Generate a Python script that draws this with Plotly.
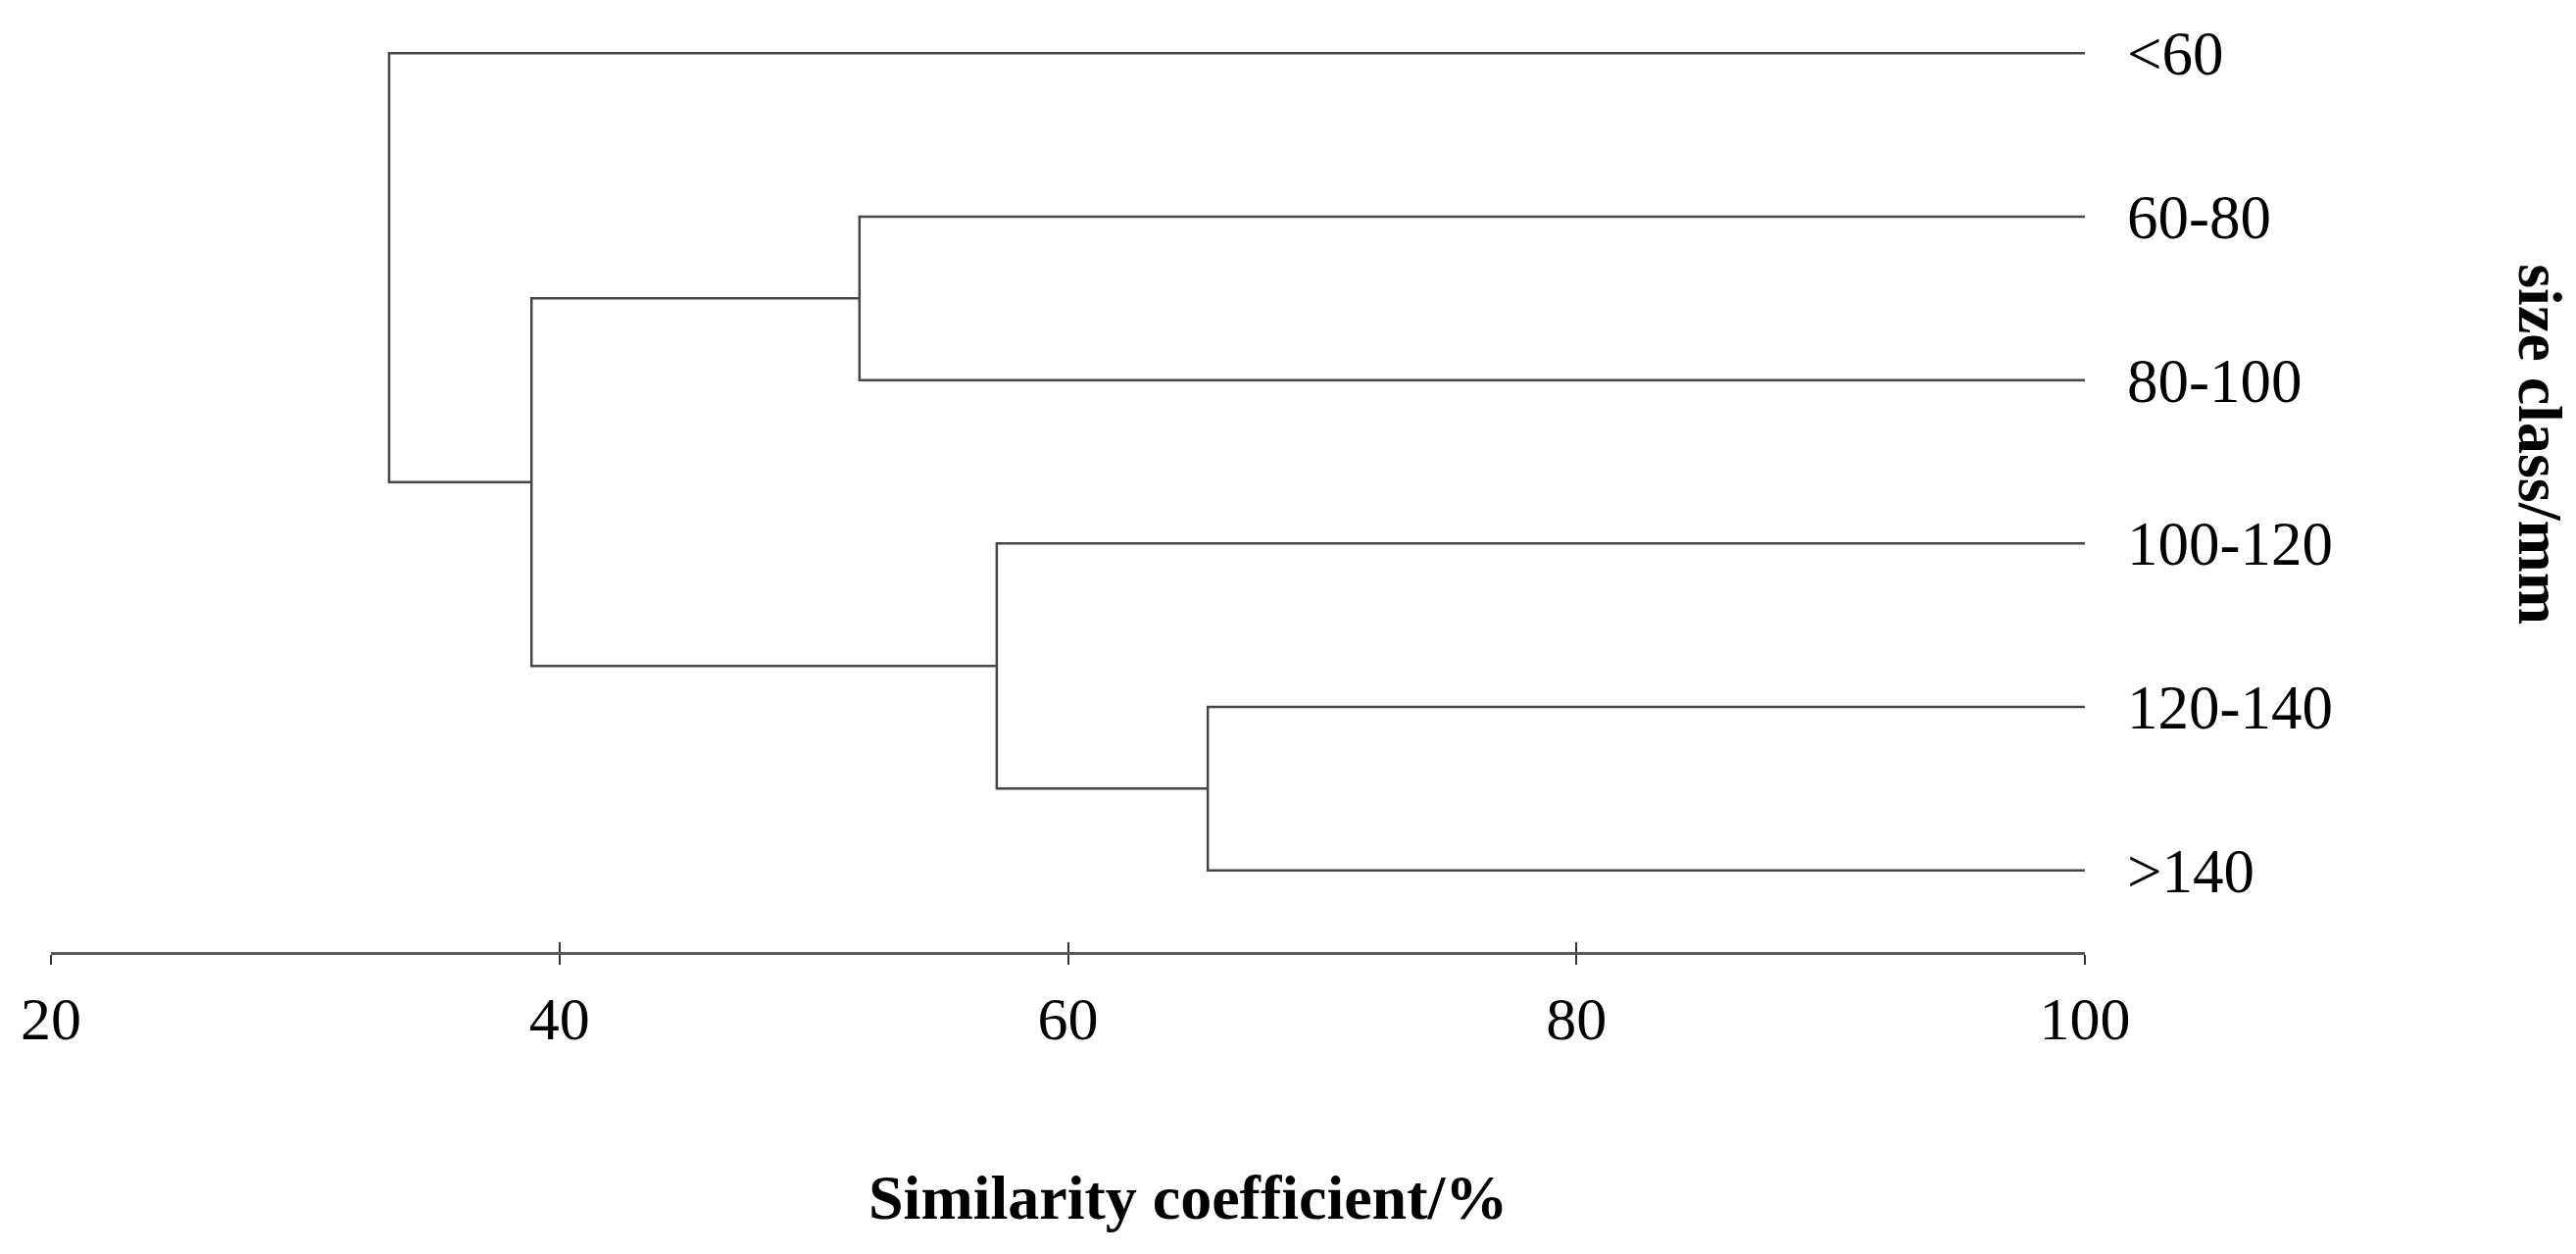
import plotly.graph_objects as go

# ---- data ----
leaf_labels = ["<60", "60-80", "80-100", "100-120", "120-140", ">140"]
# linkage: (child_a, child_b, similarity %); new cluster ids start at len(leaf_labels)
merge_a = [4, 3, 1, 8, 0]
merge_b = [5, 6, 2, 7, 9]
merge_sim = [65.5, 57.2, 51.8, 38.9, 33.3]
x_ticks = [20, 40, 60, 80, 100]

# ---- build dendrogram segments from linkage ----
n = len(leaf_labels)
pos_y = {i: float(i) for i in range(n)}
pos_x = {i: 100.0 for i in range(n)}
xs, ys = [], []
for k, (a, b, s) in enumerate(zip(merge_a, merge_b, merge_sim)):
    cid = n + k
    ya, yb = pos_y[a], pos_y[b]
    xs += [pos_x[a], s, s, pos_x[b], None]
    ys += [ya, ya, yb, yb, None]
    pos_y[cid] = (ya + yb) / 2
    pos_x[cid] = s

FONT = "Liberation Serif, Times New Roman, serif"
OFF = 8  # page body margin
L, R_EDGE, T, B = 52 - OFF, 2127 - OFF, 20.6 - OFF, 971 - OFF
W, H = 2628, 1279

fig = go.Figure()
fig.add_trace(go.Scatter(x=xs, y=ys, mode="lines",
                         line=dict(color="#454545", width=2.5),
                         hoverinfo="skip", showlegend=False))
# invisible trace to activate overlay axis for inward ticks
fig.add_trace(go.Scatter(x=[20, 100], y=[0, 0], xaxis="x2", mode="markers",
                         marker=dict(opacity=0), hoverinfo="skip", showlegend=False))

fig.update_layout(
    width=W, height=H,
    margin=dict(l=L, r=W - R_EDGE, t=T, b=H - B, pad=0),
    paper_bgcolor="white", plot_bgcolor="white",
    font=dict(family=FONT, color="black"),
    xaxis=dict(range=[20, 100], tickvals=x_ticks, ticktext=[str(v) for v in x_ticks],
               showgrid=False, zeroline=False, showline=True,
               linecolor="#5a5a5a", linewidth=3,
               ticks="outside", ticklen=10, tickwidth=2, tickcolor="#333333",
               tickfont=dict(size=62, family=FONT, color="black"),
               ticklabelstandoff=2, fixedrange=True),
    xaxis2=dict(range=[20, 100], overlaying="x", anchor="y", side="bottom",
                tickvals=x_ticks, showticklabels=False, showgrid=False,
                zeroline=False, showline=False,
                ticks="inside", ticklen=10, tickwidth=2, tickcolor="#333333"),
    yaxis=dict(range=[5.5, -0.2], side="right", tickvals=list(range(n)),
               ticktext=leaf_labels, showgrid=False, zeroline=False,
               showline=False, ticks="", ticklabelstandoff=42,
               tickfont=dict(size=63, family=FONT, color="black"),
               fixedrange=True),
    annotations=[
        dict(text="<b>Similarity coefficient/%</b>", xref="paper", yref="paper",
             x=(1212 - 52) / (2127 - 52), y=(971 - 1222) / (971 - 20.6),
             xanchor="center", yanchor="middle", showarrow=False,
             font=dict(size=64, family=FONT, color="black")),
        dict(text="<b>size class/mm</b>", xref="paper", yref="paper",
             x=(2592 - 52) / (2127 - 52), y=(971 - 453) / (971 - 20.6),
             xanchor="center", yanchor="middle", showarrow=False, textangle=90,
             font=dict(size=64, family=FONT, color="black")),
    ],
)

fig.write_html("out.html")
